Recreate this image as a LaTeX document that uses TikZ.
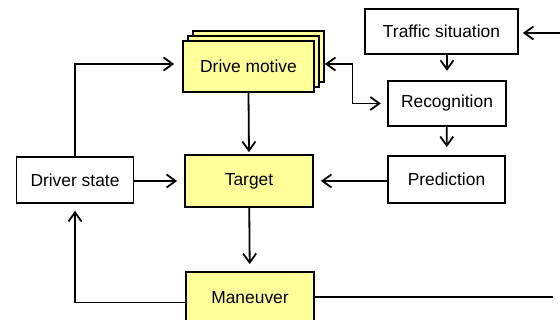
\documentclass[tikz,border=0pt]{standalone}
\usepackage{fontspec}
\setmainfont{Liberation Sans}
\usetikzlibrary{arrows.meta,calc,positioning}
\definecolor{boxyellow}{RGB}{255,255,153}
\tikzset{>={Straight Barb[length=9pt,width=13pt,line width=1.8pt]},shorten >=7pt}
\tikzset{box/.style={draw,line width=1.8pt,inner sep=0pt,
        font=\fontsize{17.4}{20}\selectfont,fill=white}}
\tikzset{hibox/.style={box,fill=boxyellow}}

\begin{document}
\begin{tikzpicture}[x=1pt,y=-1pt,line width=1.8pt]
            \path[use as bounding box,clip] (0,0) rectangle (560,320);
            % boxes
            \node[hibox,minimum width=131pt,minimum height=51pt] (mback) at (258.5,56.5) {};
            \node[hibox,minimum width=131pt,minimum height=51pt] (mmid) at (253.5,61.5) {};
            \node[hibox,minimum width=131pt,minimum height=51pt] (motive) at (248.5,66.5) {Drive motive};
            \node[box,minimum width=153pt,minimum height=45pt] (traffic) at (441.5,31.5) {Traffic situation};
            \node[box,line width=2.4pt,minimum width=118pt,minimum height=45pt] (recog) at (447,103.5) {Recognition};
            \node[box,minimum width=117pt,minimum height=47pt] (predict) at (446.5,179.5) {Prediction};
            \node[box,minimum width=117pt,minimum height=46pt] (driver) at (75,180) {Driver state};
            \node[hibox,minimum width=128pt,minimum height=52pt] (target) at (249,181) {Target};
            \node[hibox,minimum width=128pt,minimum height=52pt] (maneuver) at (250,298) {Maneuver};
            \coordinate (tin) at (560,33);
            \coordinate (mout) at (560,297);
            % connectors
            \draw[->,shorten >=4pt] (tin) -- (traffic.east |- tin);
            \draw[->,shorten >=9pt] (recog.north |- traffic.south) -- (recog.north);
            \draw[->,shorten >=8pt] (recog) -- (predict);
            \draw[->] (predict.west |- target) -- (target.east);
            \draw[->] (driver.east |- target) -- (target.west);
            \draw[->,shorten >=2pt] (motive.south) -- (target.north);
            \draw[->] (target) -- (maneuver);
            \draw[->,shorten >=8pt] (driver.north) |- ($(motive.west)+(0,-2.5)$);
            \draw[<->,shorten <=0pt,shorten >=6pt] ($(mback.east |- motive.west)+(0,-2.5)$) -- (352.5,64) |- (recog.west);
            \draw[->] ($(maneuver.west)+(0,4.5)$) -| (driver.south);
            \draw (maneuver.east |- mout) -- (mout);
        \end{tikzpicture}
\end{document}
